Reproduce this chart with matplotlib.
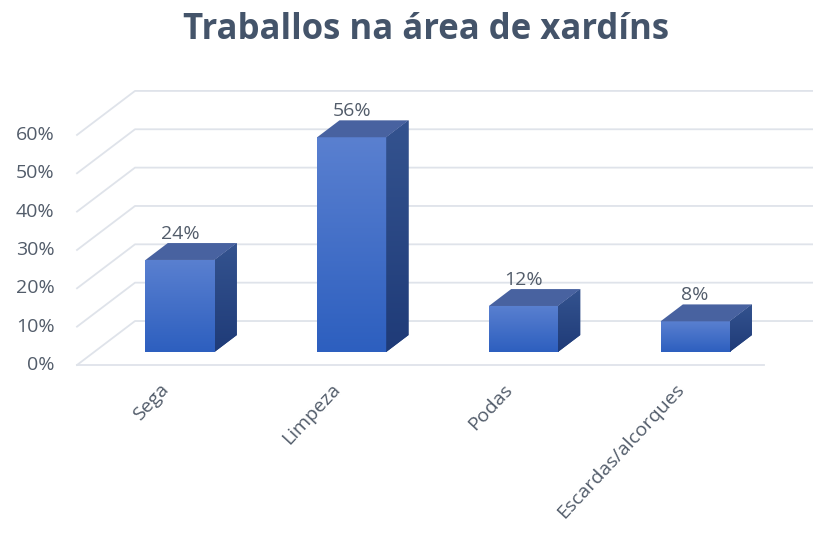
import numpy as np
import matplotlib
matplotlib.use("Agg")
import matplotlib.pyplot as plt
from matplotlib.patches import Polygon

categories = ["Sega", "Limpeza", "Podas", "Escardas/alcorques"]
values = [24, 56, 12, 8]
ticks = [0, 10, 20, 30, 40, 50, 60]
tick_labels = ["0%", "10%", "20%", "30%", "40%", "50%", "60%"]
title = "Traballos na área de xardíns"

plt.rcParams['font.family'] = ['Open Sans', 'DejaVu Sans']

# oblique "3d" look: depth vector for the full floor (x in categories, y in %)
DX, DY = 0.3378, 11.47
ZF, ZB = 0.2955, 0.68   # bar front / back depth
W = 0.402


def proj(x, y, z):
    return x + (z - ZF) * DX, y + (z - ZF) * DY


fig = plt.figure(figsize=(8.13, 5.38), dpi=100)
ax = fig.add_axes([0, 0, 1, 1])
ax.set_xlim(-1.0483, 3.6867)
ax.set_ylim(-48.5, 91.79)
ax.axis('off')

grid_c = '#dfe3ea'
txt_c = '#525c6a'
x0, x1 = -0.5, len(categories) - 0.5
for v, lab in zip(ticks, tick_labels):
    fx, fy = proj(x0, v, 0)
    bx, by = proj(x0, v, 1)
    ex, ey = proj(x1, v, 1)
    ax.plot([fx, bx, ex], [fy, by, ey], color=grid_c, lw=1.3, zorder=1)
    ax.text(fx - 0.13, fy, lab, ha='right', va='center', fontsize=14,
            color=txt_c)
fx, fy = proj(x0, 0, 0)
ex, ey = proj(x1, 0, 0)
ax.plot([fx, ex], [fy, ey], color=grid_c, lw=1.3, zorder=1)

grad = np.linspace(0, 1, 256).reshape(-1, 1)
front_cmap = matplotlib.colors.LinearSegmentedColormap.from_list('f', ['#2d5fbf', '#5a80d0'])
side_cmap = matplotlib.colors.LinearSegmentedColormap.from_list('s', ['#1f3b78', '#34538f'])

xs = np.arange(len(categories))
bars = ax.bar(xs, values, width=W, color='#3f6bc6', zorder=3)
ddx, ddy = (ZB - ZF) * DX, (ZB - ZF) * DY
for b, x, v in zip(bars, xs, values):
    l, r = x - W / 2, x + W / 2
    im = ax.imshow(grad, extent=[l, r, 0, v], origin='lower', cmap=front_cmap,
                   aspect='auto', zorder=4)
    im.set_clip_path(b)
    side = Polygon([(r, 0), (r + ddx, ddy), (r + ddx, v + ddy), (r, v)],
                   closed=True, facecolor='#2a4784', edgecolor='none', zorder=3)
    ax.add_patch(side)
    im2 = ax.imshow(grad, extent=[r, r + ddx, 0, v + ddy], origin='lower',
                    cmap=side_cmap, aspect='auto', zorder=4)
    im2.set_clip_path(side)
    top = Polygon([(l, v), (r, v), (r + ddx, v + ddy), (l + ddx, v + ddy)],
                  closed=True, facecolor='#4862a0', edgecolor='none', zorder=4)
    ax.add_patch(top)
    ax.text(x, v + ddy + 0.1, f"{v}%", ha='center', va='bottom', fontsize=14,
            color=txt_c, zorder=5)
    lx, ly = proj(x, 0, 0)
    ax.text(lx - 0.02, ly - 4.0, categories[x], ha='right', va='top', rotation=47,
            rotation_mode='anchor', fontsize=14, color=txt_c)

ax.set_xlim(-1.0483, 3.6867)
ax.set_ylim(-48.5, 91.79)
fig.text(0.524, 0.944, title, ha='center', va='center', fontsize=25,
         fontweight='bold', color='#44546a')

fig.savefig('out.png', dpi=100)
